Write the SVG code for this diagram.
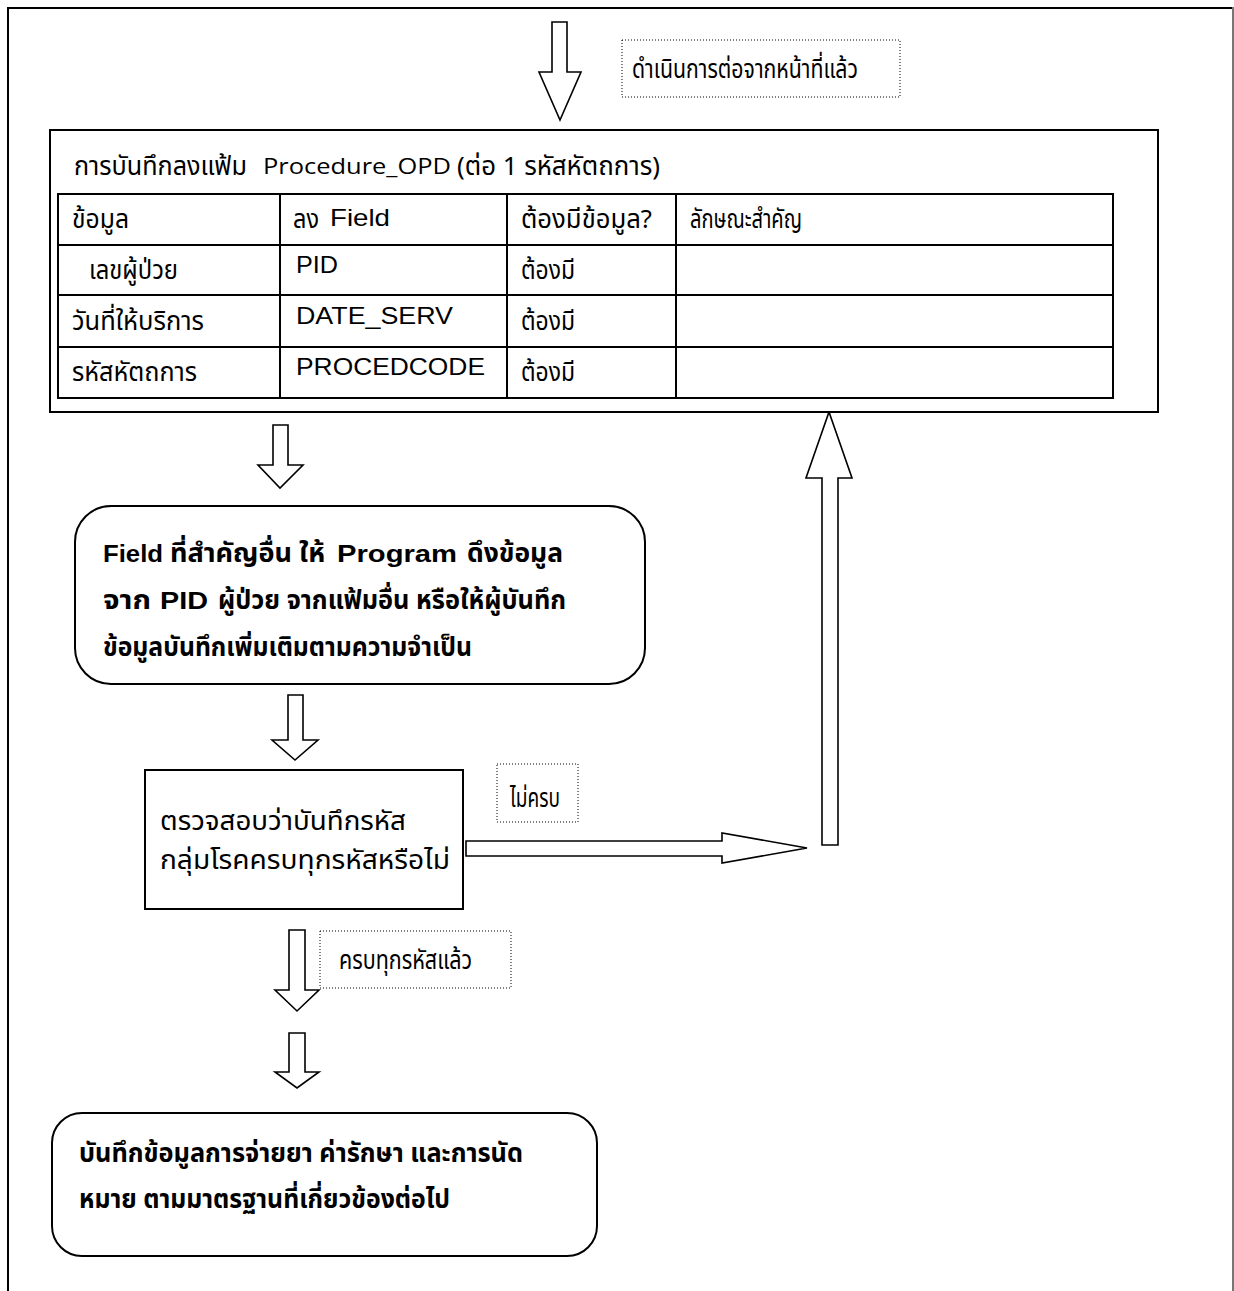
<svg xmlns="http://www.w3.org/2000/svg" width="1234" height="1291" viewBox="0 0 1234 1291">
<style>
.page{fill:none;stroke:#000;stroke-width:2}
.box{fill:#fff;stroke:#000;stroke-width:2}
.grid{fill:none;stroke:#000;stroke-width:2}
.arr{fill:#fff;stroke:#000;stroke-width:1.6;stroke-linejoin:miter}
.dot{fill:#fff;stroke:#000;stroke-width:1;stroke-dasharray:1 2}
text{fill:#000}
.th{font-family:"Noto Sans Thai","Noto Sans Thai UI","Noto Sans","DejaVu Sans",sans-serif;font-size:26px}
.en{font-family:"Liberation Sans",Arial,sans-serif;font-size:24px}
.ti{font-family:"Open Sans","Noto Sans",sans-serif;font-size:22px}
.b{font-weight:bold}
</style>

<!-- page frame -->
<g id="frame">
  <line class="page" x1="7" y1="8" x2="1234" y2="8"/>
  <line class="page" x1="8" y1="7" x2="8" y2="1291"/>
  <line x1="1233" y1="7" x2="1233" y2="1291" stroke="#777" stroke-width="2"/>
</g>

<!-- block arrows -->
<g id="connectors">
  <polygon class="arr" points="552,22 567,22 567,72 581,72 560,120 539,72 552,72"/>
  <polygon class="arr" points="273,425 288,425 288,465 303,465 280,488 258,465 273,465"/>
  <polygon class="arr" points="288,695 303,695 303,740 318,740 295,760 272,740 288,740"/>
  <polygon class="arr" points="466,841 722,841 722,833 807,848 722,863 722,856 466,856"/>
  <polygon class="arr" points="822,845 822,478 806,478 829,412 852,478 838,478 838,845"/>
  <polygon class="arr" points="289,930 305,930 305,990 319,990 297,1011 275,990 289,990"/>
  <polygon class="arr" points="289,1033 305,1033 305,1072 319,1072 297,1088 275,1072 289,1072"/>
</g>

<!-- continuation note -->
<g id="note-continue">
  <rect class="dot" x="622" y="40" width="278" height="57"/>
  <text class="th" x="632" y="78" font-size="22" textLength="226" lengthAdjust="spacingAndGlyphs">ดำเนินการต่อจากหน้าที่แล้ว</text>
</g>

<!-- Procedure_OPD record table -->
<g id="procedure-opd">
  <rect class="box" x="50" y="130" width="1108" height="282"/>
  <text x="74" y="175"><tspan class="th" font-size="25" textLength="173" lengthAdjust="spacingAndGlyphs">การบันทึกลงแฟ้ม</tspan><tspan class="ti" x="263" y="174" textLength="188" lengthAdjust="spacingAndGlyphs">Procedure_OPD</tspan><tspan class="th" x="457" y="175" font-size="25" textLength="203" lengthAdjust="spacingAndGlyphs">(ต่อ 1 รหัสหัตถการ)</tspan></text>
  <rect class="grid" x="58" y="194" width="1055" height="204"/>
  <line class="grid" x1="58" y1="245" x2="1113" y2="245"/>
  <line class="grid" x1="58" y1="295" x2="1113" y2="295"/>
  <line class="grid" x1="58" y1="347" x2="1113" y2="347"/>
  <line class="grid" x1="280" y1="194" x2="280" y2="398"/>
  <line class="grid" x1="507" y1="194" x2="507" y2="398"/>
  <line class="grid" x1="676" y1="194" x2="676" y2="398"/>

  <text class="th" x="72" y="228" textLength="57" lengthAdjust="spacingAndGlyphs">ข้อมูล</text>
  <text x="293" y="228"><tspan class="th" textLength="26" lengthAdjust="spacingAndGlyphs">ลง</tspan><tspan class="en" x="330" y="226" textLength="60" lengthAdjust="spacingAndGlyphs">Field</tspan></text>
  <text class="th" x="521" y="228" textLength="131" lengthAdjust="spacingAndGlyphs">ต้องมีข้อมูล?</text>
  <text class="th" x="690" y="228" textLength="112" lengthAdjust="spacingAndGlyphs">ลักษณะสำคัญ</text>

  <text class="th" x="89" y="279" textLength="89" lengthAdjust="spacingAndGlyphs">เลขผู้ป่วย</text>
  <text class="en" x="296" y="273" textLength="42" lengthAdjust="spacingAndGlyphs">PID</text>
  <text class="th" x="521" y="279" textLength="54" lengthAdjust="spacingAndGlyphs">ต้องมี</text>

  <text class="th" x="72" y="330" textLength="132" lengthAdjust="spacingAndGlyphs">วันที่ให้บริการ</text>
  <text class="en" x="296" y="324" textLength="157" lengthAdjust="spacingAndGlyphs">DATE_SERV</text>
  <text class="th" x="521" y="330" textLength="54" lengthAdjust="spacingAndGlyphs">ต้องมี</text>

  <text class="th" x="72" y="381" textLength="125" lengthAdjust="spacingAndGlyphs">รหัสหัตถการ</text>
  <text class="en" x="296" y="375" textLength="189" lengthAdjust="spacingAndGlyphs">PROCEDCODE</text>
  <text class="th" x="521" y="381" textLength="54" lengthAdjust="spacingAndGlyphs">ต้องมี</text>
</g>

<!-- auto-fill step -->
<g id="autofill">
  <rect class="box" x="75" y="506" width="570" height="178" rx="36"/>
  <text class="b" x="103" y="562"><tspan class="en" font-size="25" textLength="60" lengthAdjust="spacingAndGlyphs">Field</tspan><tspan class="th" x="170" font-size="25" textLength="155" lengthAdjust="spacingAndGlyphs">ที่สำคัญอื่น ให้</tspan><tspan class="en" x="337" font-size="25" textLength="120" lengthAdjust="spacingAndGlyphs">Program</tspan><tspan class="th" x="467" font-size="25" textLength="96" lengthAdjust="spacingAndGlyphs">ดึงข้อมูล</tspan></text>
  <text class="b" x="103" y="609"><tspan class="th" font-size="25" textLength="48" lengthAdjust="spacingAndGlyphs">จาก</tspan><tspan class="en" x="160" font-size="25" textLength="48" lengthAdjust="spacingAndGlyphs">PID</tspan><tspan class="th" x="218" font-size="25" textLength="348" lengthAdjust="spacingAndGlyphs">ผู้ป่วย จากแฟ้มอื่น หรือให้ผู้บันทึก</tspan></text>
  <text class="th b" x="103" y="656" font-size="25" textLength="369" lengthAdjust="spacingAndGlyphs">ข้อมูลบันทึกเพิ่มเติมตามความจำเป็น</text>
</g>

<!-- completeness check -->
<g id="check">
  <rect class="box" x="145" y="770" width="318" height="139"/>
  <text class="th" x="160" y="830" font-size="26" textLength="246" lengthAdjust="spacingAndGlyphs">ตรวจสอบว่าบันทึกรหัส</text>
  <text class="th" x="160" y="869" font-size="26" textLength="290" lengthAdjust="spacingAndGlyphs">กลุ่มโรคครบทุกรหัสหรือไม่</text>
</g>

<!-- branch labels -->
<g id="note-incomplete">
  <rect class="dot" x="497" y="764" width="81" height="58"/>
  <text class="th" x="510" y="807" font-size="22" textLength="50" lengthAdjust="spacingAndGlyphs">ไม่ครบ</text>
</g>
<g id="note-complete">
  <rect class="dot" x="320" y="931" width="191" height="57"/>
  <text class="th" x="339" y="969" font-size="22" textLength="133" lengthAdjust="spacingAndGlyphs">ครบทุกรหัสแล้ว</text>
</g>

<!-- next step -->
<g id="next-step">
  <rect class="box" x="52" y="1113" width="545" height="143" rx="30"/>
  <text class="th b" x="79" y="1162" font-size="25" textLength="444" lengthAdjust="spacingAndGlyphs">บันทึกข้อมูลการจ่ายยา ค่ารักษา และการนัด</text>
  <text class="th b" x="79" y="1208" font-size="25" textLength="371" lengthAdjust="spacingAndGlyphs">หมาย ตามมาตรฐานที่เกี่ยวข้องต่อไป</text>
</g>
</svg>
